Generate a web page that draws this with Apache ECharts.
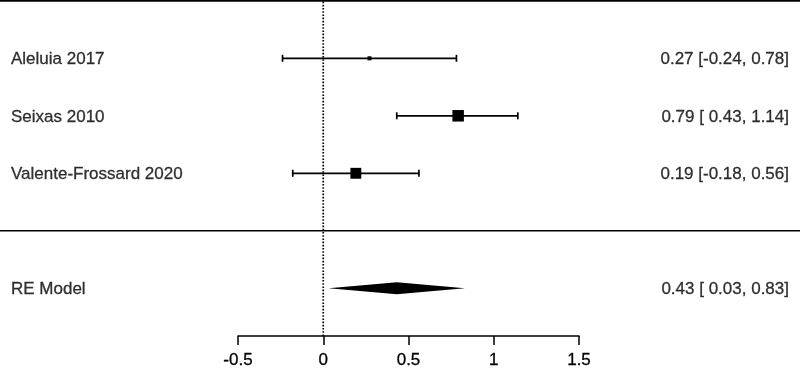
<!DOCTYPE html>
<html>
<head>
<meta charset="utf-8">
<script src="https://cdn.jsdelivr.net/npm/echarts@6/dist/echarts.min.js"></script>
<style>
  html, body { margin: 0; padding: 0; background: #fff; }
  #chart { width: 800px; height: 372px; }
</style>
</head>
<body>
<div id="chart"></div>
<script>
// study data
const studies = ['Aleluia 2017', 'Seixas 2010', 'Valente-Frossard 2020'];
const rows = [3, 2, 1];
const estimates = [0.27, 0.79, 0.19];
const lowers = [-0.24, 0.43, -0.18];
const uppers = [0.78, 1.14, 0.56];
const weights = [27.9, 36.4, 35.7]; // approx. RE weights (%)

// summary (RE model)
const summaryLabel = 'RE Model';
const summaryRow = -1;
const summaryEst = 0.43;
const summaryLower = 0.03;
const summaryUpper = 0.83;

const xTicks = [-0.5, 0, 0.5, 1, 1.5];

// layout
const FONT = "'Liberation Sans', Arial, sans-serif";
const FS = 17;
const fullXMin = -1.897, fullXMax = 2.795;   // whole canvas width in effect units
const rowMin = -2.456, rowMax = 4.014;       // whole canvas height in rows
const topRow = 4, sepRow = 0;

const fmt = v => (v < 0 ? '' : ' ') + v.toFixed(2);
const ciText = (e, l, u) => e.toFixed(2) + ' [' + fmt(l) + ', ' + u.toFixed(2) + ']';

const wMin = Math.min(...weights), wMax = Math.max(...weights);
const ciData = studies.map((s, i) => [rows[i], lowers[i], estimates[i], uppers[i],
  4 + 7.5 * (weights[i] - wMin) / (wMax - wMin)]);

const labelRows = rows.concat([summaryRow]);
const leftLabels = studies.concat([summaryLabel]);
const rightLabels = studies.map((s, i) => ciText(estimates[i], lowers[i], uppers[i]))
  .concat([ciText(summaryEst, summaryLower, summaryUpper)]);

function ciItem(params, api) {
  const y = api.value(0);
  const lo = api.coord([api.value(1), y]);
  const pe = api.coord([api.value(2), y]);
  const hi = api.coord([api.value(3), y]);
  const s = api.value(4);
  const cap = 3.5;
  const st = { stroke: '#000', lineWidth: 1.7 };
  return {
    type: 'group',
    children: [
      { type: 'line', shape: { x1: lo[0], y1: lo[1], x2: hi[0], y2: hi[1] }, style: st },
      { type: 'line', shape: { x1: lo[0], y1: lo[1] - cap, x2: lo[0], y2: lo[1] + cap }, style: st },
      { type: 'line', shape: { x1: hi[0], y1: hi[1] - cap, x2: hi[0], y2: hi[1] + cap }, style: st },
      { type: 'rect', shape: { x: pe[0] - s / 2, y: pe[1] - s / 2, width: s, height: s }, style: { fill: '#000' } }
    ]
  };
}

function diamondItem(params, api) {
  const y = api.value(0);
  const lo = api.coord([api.value(1), y]);
  const pe = api.coord([api.value(2), y]);
  const hi = api.coord([api.value(3), y]);
  const h = 6;
  return {
    type: 'polygon',
    shape: { points: [[lo[0], lo[1]], [pe[0], pe[1] - h], [hi[0], hi[1]], [pe[0], pe[1] + h]] },
    style: { fill: '#000' }
  };
}

const labelStyle = { color: '#000', fontSize: FS, fontFamily: FONT, textBorderColor: '#000', textBorderWidth: 0.3 };

const chart = echarts.init(document.getElementById('chart'));
chart.setOption({
  animation: false,
  backgroundColor: '#fff',
  textStyle: { fontFamily: FONT },
  grid: [
    { left: 0, right: 0, top: 0, bottom: 0 },
    { left: 238, right: 221, top: 0, bottom: 36 }
  ],
  xAxis: [
    { type: 'value', gridIndex: 0, min: fullXMin, max: fullXMax, show: false },
    {
      type: 'value', gridIndex: 1, min: xTicks[0], max: xTicks[xTicks.length - 1], interval: 0.5,
      axisLine: { show: true, onZero: false, lineStyle: { color: '#000', width: 1.5 } },
      axisTick: { show: true, length: 9, lineStyle: { color: '#000', width: 1.5 } },
      axisLabel: Object.assign({ margin: 16 }, labelStyle),
      splitLine: { show: false }
    }
  ],
  yAxis: [
    { type: 'value', gridIndex: 0, min: rowMin, max: rowMax, show: false },
    { type: 'value', gridIndex: 1, min: 0, max: 1, show: false }
  ],
  series: [
    {
      type: 'line', xAxisIndex: 0, yAxisIndex: 0, symbol: 'none', silent: true,
      data: [[fullXMin, topRow], [fullXMax, topRow]],
      lineStyle: { color: '#000', width: 2 }
    },
    {
      type: 'line', xAxisIndex: 0, yAxisIndex: 0, symbol: 'none', silent: true,
      data: [[fullXMin, sepRow], [fullXMax, sepRow]],
      lineStyle: { color: '#000', width: 1.5 }
    },
    {
      type: 'line', xAxisIndex: 1, yAxisIndex: 1, symbol: 'none', silent: true,
      data: [[0, 0], [0, 1]],
      lineStyle: { color: '#000', width: 1.7, type: [1.6, 1.6] }
    },
    {
      type: 'custom', xAxisIndex: 0, yAxisIndex: 0, renderItem: ciItem,
      data: ciData
    },
    {
      type: 'custom', xAxisIndex: 0, yAxisIndex: 0, renderItem: diamondItem,
      data: [[summaryRow, summaryLower, summaryEst, summaryUpper]]
    },
    {
      type: 'scatter', xAxisIndex: 0, yAxisIndex: 0, symbolSize: 0, silent: true,
      data: labelRows.map((r, i) => ({ value: [fullXMin, r], name: leftLabels[i] })),
      label: Object.assign({ show: true, position: 'right', distance: 11, offset: [0, 1.5], formatter: p => p.name }, labelStyle)
    },
    {
      type: 'scatter', xAxisIndex: 0, yAxisIndex: 0, symbolSize: 0, silent: true,
      data: labelRows.map((r, i) => ({ value: [fullXMax, r], name: rightLabels[i] })),
      label: Object.assign({ show: true, position: 'left', distance: 11, offset: [0, 1.5], formatter: p => p.name }, labelStyle)
    }
  ]
});
</script>
</body>
</html>
